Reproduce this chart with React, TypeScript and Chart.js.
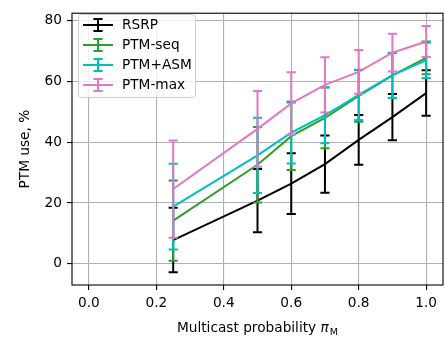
import React, { useEffect, useRef } from "react";
import { Chart, registerables } from "chart.js";

Chart.register(...registerables);

const xValues = [0.25, 0.5, 0.6, 0.7, 0.8, 0.9, 1.0];
const seriesNames = ["RSRP", "PTM-seq", "PTM+ASM", "PTM-max"];
const seriesColors = ["#000000", "#2ca02c", "#00bfbf", "#e377c2"];

const rsrpMean = [7.8, 20.8, 26.4, 32.8, 40.8, 48.3, 56.2];
const rsrpErr = [10.6, 10.4, 10.0, 9.4, 8.2, 7.6, 7.5];
const seqMean = [14.2, 32.6, 42.0, 48.0, 55.3, 62.0, 67.8];
const seqErr = [13.2, 12.4, 11.1, 10.0, 8.5, 7.4, 5.4];
const asmMean = [18.8, 35.7, 43.2, 48.9, 55.6, 62.1, 67.0];
const asmErr = [14.1, 12.4, 10.2, 9.2, 8.3, 7.4, 5.8];
const maxMean = [24.6, 44.4, 52.8, 58.9, 63.2, 69.5, 73.2];
const maxErr = [16.0, 12.5, 10.3, 9.1, 7.2, 6.2, 5.1];

const xTicks = [0, 0.2, 0.4, 0.6, 0.8, 1.0];
const yTicks = [0, 20, 40, 60, 80];

const xLabel = "Multicast probability ";
const xLabelSymbol = "π";
const xLabelSub = "M";
const yLabel = "PTM use, %";

const means = [rsrpMean, seqMean, asmMean, maxMean];
const errs = [rsrpErr, seqErr, asmErr, maxErr];

const FONT = "DejaVu Sans";
const FS = 13.7;
const LW = 2;
const CAP = 4.6;

const errorBarPlugin = {
  id: "errorBars",
  afterDatasetDraw(chart: any, args: any) {
    const i = args.index;
    const ctx = chart.ctx;
    const xs = chart.scales.x;
    const ys = chart.scales.y;
    ctx.save();
    ctx.strokeStyle = seriesColors[i];
    ctx.lineWidth = LW;
    ctx.lineCap = "butt";
    xValues.forEach((xv, j) => {
      const px = xs.getPixelForValue(xv);
      const top = ys.getPixelForValue(means[i][j] + errs[i][j]);
      const bot = ys.getPixelForValue(means[i][j] - errs[i][j]);
      ctx.beginPath();
      ctx.moveTo(px, top);
      ctx.lineTo(px, bot);
      ctx.moveTo(px - CAP, top);
      ctx.lineTo(px + CAP, top);
      ctx.moveTo(px - CAP, bot);
      ctx.lineTo(px + CAP, bot);
      ctx.stroke();
    });
    ctx.restore();
  },
};

const framePlugin = {
  id: "frame",
  afterDatasetsDraw(chart: any) {
    const { ctx, chartArea } = chart;
    ctx.save();
    ctx.strokeStyle = "#000";
    ctx.lineWidth = 1.1;
    ctx.strokeRect(
      chartArea.left,
      chartArea.top,
      chartArea.right - chartArea.left,
      chartArea.bottom - chartArea.top
    );
    ctx.restore();
  },
};

const decorPlugin = {
  id: "decor",
  afterDraw(chart: any) {
    const { ctx, chartArea } = chart;
    ctx.save();
    // legend
    const bx = 78.5, by = 14.5, bw = 117, bh = 83;
    ctx.beginPath();
    (ctx as any).roundRect(bx, by, bw, bh, 3);
    ctx.fillStyle = "rgba(255,255,255,0.8)";
    ctx.fill();
    ctx.strokeStyle = "#cccccc";
    ctx.lineWidth = 1;
    ctx.stroke();
    seriesNames.forEach((name, i) => {
      const cy = 25 + 20 * i;
      ctx.strokeStyle = seriesColors[i];
      ctx.lineWidth = LW;
      ctx.beginPath();
      ctx.moveTo(83, cy);
      ctx.lineTo(113, cy);
      const cx = 98;
      ctx.moveTo(cx, cy - 6);
      ctx.lineTo(cx, cy + 6);
      ctx.moveTo(cx - CAP, cy - 6);
      ctx.lineTo(cx + CAP, cy - 6);
      ctx.moveTo(cx - CAP, cy + 6);
      ctx.lineTo(cx + CAP, cy + 6);
      ctx.stroke();
      ctx.fillStyle = "#000";
      ctx.font = `${FS}px "${FONT}"`;
      ctx.textBaseline = "middle";
      ctx.textAlign = "left";
      ctx.fillText(name, 122, cy + 0.5);
    });
    // x title
    const mid = (chartArea.left + chartArea.right) / 2;
    const base = 332;
    ctx.font = `${FS}px "${FONT}"`;
    const w1 = ctx.measureText(xLabel).width;
    ctx.font = `italic ${FS}px "${FONT}"`;
    const w2 = ctx.measureText(xLabelSymbol).width;
    ctx.font = `${FS * 0.7}px "${FONT}"`;
    const w3 = ctx.measureText(xLabelSub).width;
    let sx = mid - (w1 + w2 + w3 + 1) / 2;
    ctx.textBaseline = "alphabetic";
    ctx.textAlign = "left";
    ctx.fillStyle = "#000";
    ctx.font = `${FS}px "${FONT}"`;
    ctx.fillText(xLabel, sx, base);
    sx += w1;
    ctx.font = `italic ${FS}px "${FONT}"`;
    ctx.fillText(xLabelSymbol, sx, base);
    sx += w2 + 1;
    ctx.font = `${FS * 0.7}px "${FONT}"`;
    ctx.fillText(xLabelSub, sx, base + 2.5);
    // y title
    ctx.translate(25, (chartArea.top + chartArea.bottom) / 2);
    ctx.rotate(-Math.PI / 2);
    ctx.font = `${FS}px "${FONT}"`;
    ctx.textAlign = "center";
    ctx.textBaseline = "middle";
    ctx.fillText(yLabel, 0, 0);
    ctx.restore();
  },
};

export default function App() {
  const ref = useRef<HTMLCanvasElement | null>(null);
  useEffect(() => {
    document.body.style.margin = "0";
    const canvas = ref.current!;
    const datasets = seriesNames.map((name, i) => ({
      label: name,
      data: xValues.map((x, j) => ({ x, y: means[i][j] })),
      borderColor: seriesColors[i],
      backgroundColor: seriesColors[i],
      borderWidth: LW,
      pointRadius: 0,
      tension: 0,
      fill: false,
      order: seriesNames.length - 1 - i,
    }));
    const tickFont = { family: FONT, size: FS };
    const chart = new Chart(canvas, {
      type: "line",
      data: { datasets },
      options: {
        animation: false,
        responsive: false,
        devicePixelRatio: 1,
        layout: { padding: { top: 8, right: 2, left: 0, bottom: 0 } },
        plugins: { legend: { display: false }, tooltip: { enabled: false } },
        scales: {
          x: {
            type: "linear",
            min: -0.05,
            max: 1.05,
            afterBuildTicks: (s: any) => {
              s.ticks = xTicks.map((v) => ({ value: v }));
            },
            afterFit: (s: any) => {
              s.height = 53;
            },
            border: { display: false },
            grid: {
              color: "#b0b0b0",
              lineWidth: 1.1,
              tickColor: "#000",
              tickLength: 5,
              tickWidth: 1.1,
            },
            ticks: {
              font: tickFont,
              color: "#000",
              padding: 5,
              autoSkip: false,
              maxRotation: 0,
              callback: (v: any) => Number(v).toFixed(1),
            },
          },
          y: {
            type: "linear",
            min: -7,
            max: 82.5,
            afterBuildTicks: (s: any) => {
              s.ticks = yTicks.map((v) => ({ value: v }));
            },
            afterFit: (s: any) => {
              s.width = 72;
            },
            border: { display: false },
            grid: {
              color: "#b0b0b0",
              lineWidth: 1.1,
              tickColor: "#000",
              tickLength: 5,
              tickWidth: 1.1,
            },
            ticks: {
              font: tickFont,
              color: "#000",
              padding: 5,
              autoSkip: false,
              callback: (v: any) => String(v),
            },
          },
        },
      },
      plugins: [errorBarPlugin, framePlugin, decorPlugin],
    } as any);
    return () => chart.destroy();
  }, []);
  return (
    <div style={{ width: 445, height: 338 }}>
      <canvas ref={ref} width={445} height={338} style={{ display: "block" }} />
    </div>
  );
}
